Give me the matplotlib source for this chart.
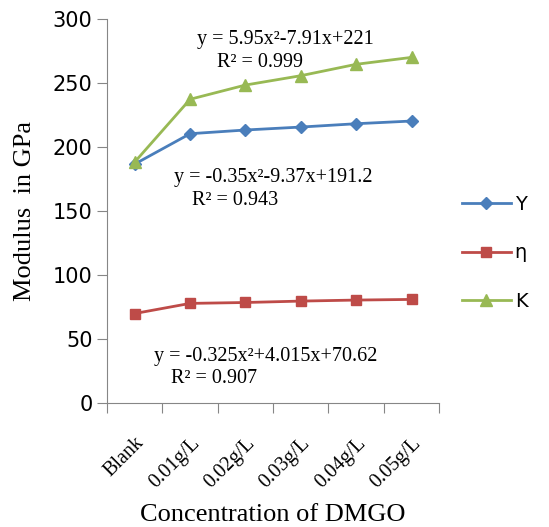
import matplotlib
matplotlib.use("Agg")
import matplotlib.pyplot as plt

categories = ["Blank", "0.01g/L", "0.02g/L", "0.03g/L", "0.04g/L", "0.05g/L"]
young = [186.7, 210.4, 213.3, 215.6, 218.2, 220.3]
shear = [70.0, 77.9, 78.6, 79.7, 80.5, 81.0]
bulk = [188.3, 237.3, 248.4, 255.7, 264.6, 270.0]
y_ticks = [0, 50, 100, 150, 200, 250, 300]

SERIF = "Liberation Serif"
SANS = "DejaVu Sans"
GREY = "#868686"

fig = plt.figure(figsize=(5.49, 5.27), dpi=100)
ax = fig.add_axes([0.195, 0.235, 0.605, 0.729])

x = list(range(len(categories)))
ax.plot(x, young, color="#4a7ebb", lw=2, marker="D", ms=6, label="Y")
ax.plot(x, shear, color="#be4b48", lw=2, marker="s", ms=7, label="η")
ax.plot(x, bulk, color="#98b954", lw=2, marker="^", ms=9, label="K")

ax.set_xlim(-0.5, len(categories) - 0.5)
ax.set_ylim(0, 300)
ax.set_yticks(y_ticks)
ax.set_yticklabels([str(t) for t in y_ticks], family=SANS, fontsize=15)

# category boundaries get the tick marks, labels sit in between
ax.set_xticks([i - 0.5 for i in range(len(categories) + 1)])
ax.set_xticklabels([])
ax.set_xticks(x, minor=True)
ax.set_xticklabels(categories, minor=True, rotation=45, ha="right",
                   rotation_mode="anchor", family=SERIF, fontsize=14.5)
ax.tick_params(axis="x", which="minor", length=0, pad=22)
ax.tick_params(axis="both", which="major", length=7, color=GREY, direction="out")

for side in ("top", "right"):
    ax.spines[side].set_visible(False)
for side in ("left", "bottom"):
    ax.spines[side].set_color(GREY)

ax.set_ylabel("Modulus  in GPa", family=SERIF, fontsize=19, labelpad=12)
ax.set_xlabel("Concentration of DMGO", family=SERIF, fontsize=19, labelpad=9)

eq_font = dict(family=SERIF, fontsize=14.5, ha="center", va="center")
ax.text(2.72, 284, "y = 5.95x²-7.91x+221", **eq_font)
ax.text(2.27, 266, "R² = 0.999", **eq_font)
ax.text(2.5, 176, "y = -0.35x²-9.37x+191.2", **eq_font)
ax.text(1.81, 158, "R² = 0.943", **eq_font)
ax.text(2.36, 36.7, "y = -0.325x²+4.015x+70.62", **eq_font)
ax.text(1.43, 19.5, "R² = 0.907", **eq_font)

fig.legend(loc="center left", bbox_to_anchor=(0.81, 0.52), frameon=False,
           prop={"family": SANS, "size": 14}, handlelength=2.5,
           labelspacing=1.5, handletextpad=0.2)

fig.savefig("out.png", dpi=100)
